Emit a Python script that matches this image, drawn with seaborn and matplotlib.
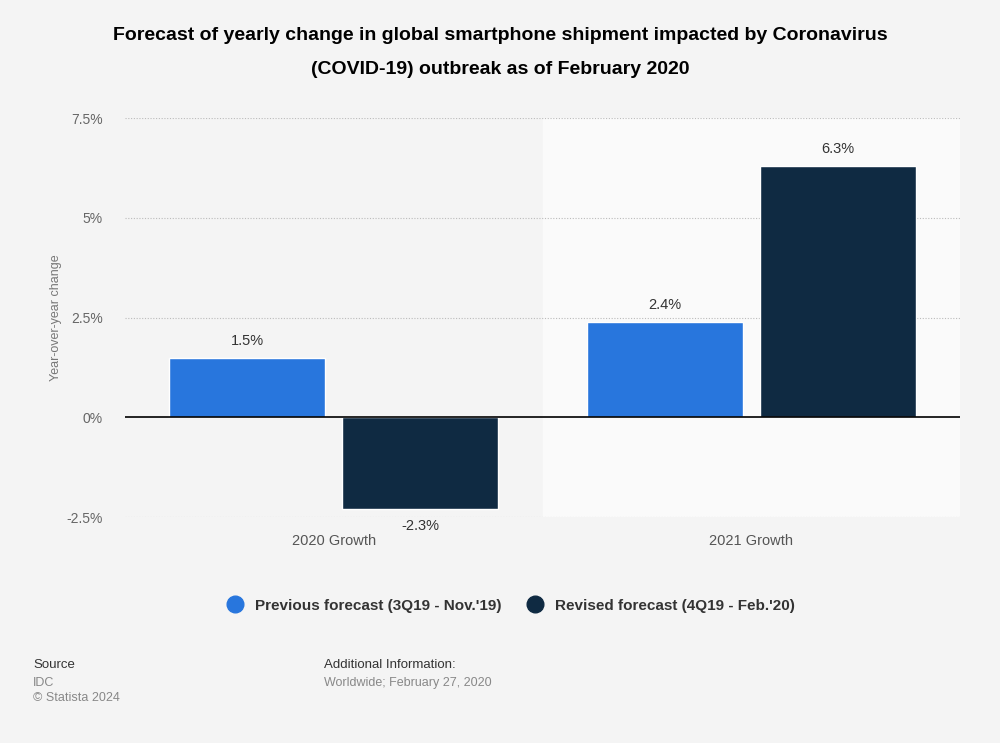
import pandas as pd
import numpy as np
import matplotlib.pyplot as plt
import seaborn as sb

#####
categories = ["2020 Growth", "2021 Growth"]
series = ["Previous forecast (3Q19 - Nov.'19)", "Revised forecast (4Q19 - Feb.'20)"]
previous = [1.5, 2.4]
revised = [-2.3, 6.3]
yticks = [-2.5, 0, 2.5, 5, 7.5]
ytick_labels = ["-2.5%", "0%", "2.5%", "5%", "7.5%"]
colors = ["#2876dd", "#0f2a42"]
#####

df = pd.DataFrame({
    "category": categories * 2,
    "forecast": [series[0]] * 2 + [series[1]] * 2,
    "value": previous + revised,
})

sb.set_style("white")
plt.rcParams["font.family"] = ["Liberation Sans", "DejaVu Sans"]

fig = plt.figure(figsize=(10, 7.43), dpi=100)
fig.patch.set_facecolor("#f4f4f4")
ax = fig.add_axes([0.125, 0.304, 0.835, 0.537])
ax.set_facecolor("#f4f4f4")

# lighter band behind the second category
ax.axvspan(0.5, 1.5, color="#fafafa", zorder=0)

sb.barplot(data=df, x="category", y="value", hue="forecast", order=categories,
           hue_order=series, palette=colors, width=0.83, gap=0.1,
           saturation=1, ax=ax, legend=False, zorder=3)

for c in ax.containers:
    labels = [f"{v:.1f}%" for v in c.datavalues]
    ax.bar_label(c, labels=labels, padding=7, fontsize=10.5, color="#333333")

ax.set_xlim(-0.5, 1.5)
ax.set_ylim(-2.5, 7.5)
ax.set_yticks(yticks)
ax.set_yticklabels(ytick_labels)
for y in yticks:
    if y != 0:
        ax.axhline(y, color="#bbbbbb", lw=0.8, ls=(0, (1, 1.5)), zorder=1)
ax.axhline(0, color="black", lw=1.2, zorder=4)

ax.tick_params(axis="y", length=0, pad=16, labelsize=10, labelcolor="#666666")
ax.tick_params(axis="x", length=0, pad=12, labelsize=10.5, labelcolor="#555555")
ax.set_xlabel("")
ax.set_ylabel("Year-over-year change", fontsize=9, color="#777777")
ax.yaxis.set_label_coords(-0.076, 0.5)
for s in ax.spines.values():
    s.set_visible(False)

fig.text(0.5, 0.952, "Forecast of yearly change in global smartphone shipment impacted by Coronavirus",
         ha="center", va="center", fontsize=14, fontweight="bold", color="#000000")
fig.text(0.5, 0.907, "(COVID-19) outbreak as of February 2020",
         ha="center", va="center", fontsize=14, fontweight="bold", color="#000000")

# legend
handles = [plt.Line2D([], [], marker="o", ls="", markersize=12, color=c) for c in colors]
leg = fig.legend(handles, series, loc="center", bbox_to_anchor=(0.507, 0.185), ncol=2,
                 frameon=False, prop={"weight": "bold", "size": 11},
                 handletextpad=0.3, columnspacing=1.2)
for t in leg.get_texts():
    t.set_color("#333333")

# footer
fig.text(0.033, 0.105, "Source", fontsize=9.5, color="#333333", va="center")
fig.text(0.033, 0.081, "IDC", fontsize=9, color="#888888", va="center")
fig.text(0.033, 0.060, "© Statista 2024", fontsize=9, color="#888888", va="center")
fig.text(0.324, 0.105, "Additional Information:", fontsize=9.5, color="#333333", va="center")
fig.text(0.324, 0.081, "Worldwide; February 27, 2020", fontsize=9, color="#888888", va="center")

plt.savefig("out.png", dpi=100, facecolor=fig.get_facecolor())
